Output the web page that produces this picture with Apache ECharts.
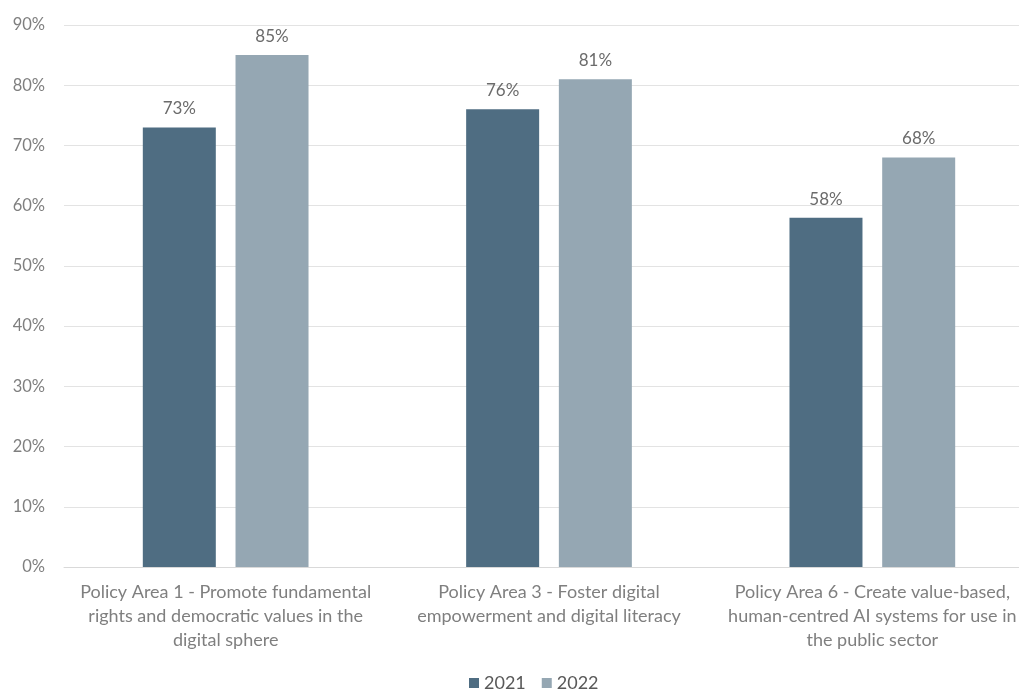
<!DOCTYPE html>
<html><head><meta charset="utf-8">
<script src="https://cdn.jsdelivr.net/npm/echarts@6/dist/echarts.min.js"></script>
<style>html,body{margin:0;padding:0;background:#fff;overflow:hidden}#c{width:1035px;height:691px}</style>
</head><body><div id="c"></div>
<script>
const categories = [
  "Policy Area 1 - Promote fundamental\nrights and democratic values in the\ndigital sphere",
  "Policy Area 3 - Foster digital\nempowerment and digital literacy",
  "Policy Area 6 - Create value-based,\nhuman-centred AI systems for use in\nthe public sector"
];
const values2021 = [73, 76, 58];
const values2022 = [85, 81, 68];
const yTicks = [0, 10, 20, 30, 40, 50, 60, 70, 80, 90];

const font = "Lato, 'Open Sans', sans-serif";
const chart = echarts.init(document.getElementById('c'));
chart.setOption({
  animation: false,
  textStyle: { fontFamily: font },
  grid: { left: 64, top: 25, right: 1, height: 542, containLabel: false },
  legend: {
    bottom: -6, left: 464, itemWidth: 10, itemHeight: 10, itemGap: 16,
    icon: 'rect',
    textStyle: { color: '#595959', fontSize: 18, fontFamily: font },
    data: ['2021', '2022']
  },
  xAxis: {
    type: 'category', data: categories,
    axisLine: { lineStyle: { color: '#d9d9d9' } },
    axisTick: { show: false },
    axisLabel: { color: '#7f7f7f', fontSize: 18, lineHeight: 24, margin: 13, interval: 0, fontFamily: font }
  },
  yAxis: {
    type: 'value', min: yTicks[0], max: yTicks[yTicks.length - 1], interval: 10,
    axisLine: { show: false }, axisTick: { show: false },
    splitLine: { lineStyle: { color: '#e3e3e3' } },
    axisLabel: { color: '#7f7f7f', fontSize: 16.5, margin: 19, formatter: '{value}%', fontFamily: font }
  },
  series: [
    { name: '2021', type: 'bar', data: values2021, barWidth: 73, barGap: '27%',
      itemStyle: { color: '#4f6d82' },
      label: { show: true, position: 'top', distance: 10, color: '#6b6b6b', fontSize: 17, formatter: '{c}%', fontFamily: font } },
    { name: '2022', type: 'bar', data: values2022, barWidth: 73,
      itemStyle: { color: '#95a7b3' },
      label: { show: true, position: 'top', distance: 10, color: '#6b6b6b', fontSize: 17, formatter: '{c}%', fontFamily: font } }
  ]
});
</script></body></html>
